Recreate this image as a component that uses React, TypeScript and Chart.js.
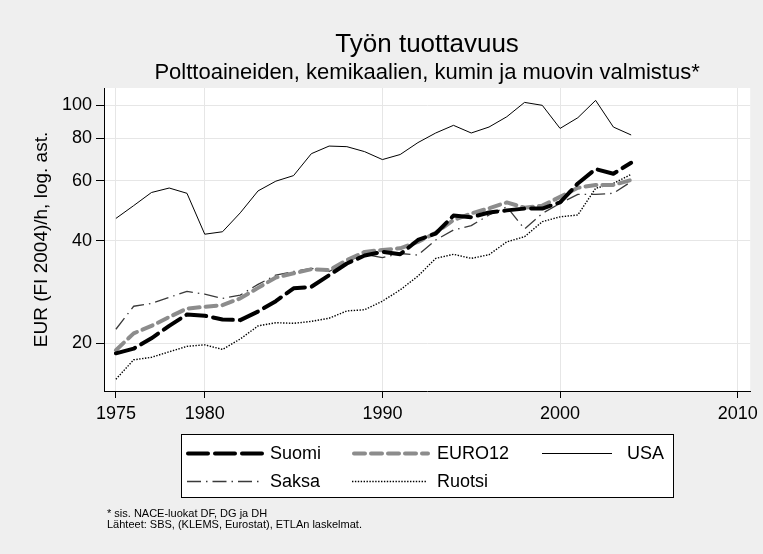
import React, { useEffect, useRef } from "react";
import { Chart, registerables } from "chart.js";

Chart.register(...registerables);

const years = [1975, 1976, 1977, 1978, 1979, 1980, 1981, 1982, 1983, 1984, 1985, 1986, 1987, 1988, 1989, 1990, 1991, 1992, 1993, 1994, 1995, 1996, 1997, 1998, 1999, 2000, 2001, 2002, 2003, 2004];
const suomi = [18.7, 19.3, 20.7, 22.5, 24.3, 24.1, 23.5, 23.4, 24.8, 26.6, 29.0, 29.3, 31.7, 34.3, 36.2, 37.1, 36.5, 40.2, 42.0, 47.4, 46.9, 48.4, 49.1, 49.7, 49.7, 51.8, 58.9, 64.9, 62.9, 67.7];
const euro12 = [19.1, 21.4, 22.5, 23.9, 25.3, 25.6, 25.9, 27.1, 29.1, 31.2, 32.1, 33.0, 32.8, 35.1, 37.1, 37.6, 38.0, 39.7, 42.2, 46.0, 48.1, 49.8, 51.8, 50.0, 50.7, 53.8, 57.2, 58.3, 58.3, 60.3];
const usa = [46.5, 50.7, 55.4, 57.1, 55.1, 41.8, 42.5, 48.3, 56.0, 59.8, 62.1, 72.0, 75.8, 75.5, 73.0, 69.2, 71.6, 77.6, 82.8, 87.2, 82.8, 86.2, 92.4, 101.8, 99.8, 85.4, 91.8, 103.2, 86.2, 81.7];
const saksa = [22.0, 25.7, 26.2, 27.3, 28.4, 27.9, 27.1, 27.7, 29.8, 31.7, 32.5, 33.2, 32.5, 34.7, 36.5, 35.7, 36.7, 36.3, 40.2, 43.0, 44.3, 47.6, 50.3, 43.3, 48.1, 51.5, 54.7, 54.7, 55.1, 59.6];
const ruotsi = [15.7, 17.9, 18.2, 18.9, 19.6, 19.8, 19.2, 20.6, 22.5, 23.0, 22.9, 23.2, 23.7, 24.9, 25.1, 26.6, 28.7, 31.5, 35.5, 36.5, 35.5, 36.4, 39.7, 41.1, 45.5, 47.0, 47.6, 57.0, 58.9, 62.6];

const xTicks = [1975, 1980, 1990, 2000, 2010];
const yTicks = [20, 40, 60, 80, 100];

const titleText = "Työn tuottavuus";
const subtitleText = "Polttoaineiden, kemikaalien, kumin ja muovin valmistus*";
const yTitleText = "EUR (FI 2004)/h, log. ast.";
const noteLines = ["* sis. NACE-luokat DF, DG ja DH", "Lähteet: SBS, (KLEMS, Eurostat), ETLAn laskelmat."];

const FONT = "'Liberation Sans', Arial, Helvetica, sans-serif";
const BG = "#efefef";

type Style = { label: string; color: string; width: number; dash: number[]; cap: CanvasLineCap };
const styles: Style[] = [
  { label: "Suomi", color: "#000000", width: 4, dash: [20, 7], cap: "round" },
  { label: "EURO12", color: "#8c8c8c", width: 4, dash: [11, 6], cap: "round" },
  { label: "USA", color: "#000000", width: 1, dash: [], cap: "butt" },
  { label: "Saksa", color: "#3a3a3a", width: 1.3, dash: [14, 5, 1.5, 5], cap: "butt" },
  { label: "Ruotsi", color: "#000000", width: 1.4, dash: [1.4, 1.5], cap: "butt" },
];
const seriesValues = [suomi, euro12, usa, saksa, ruotsi];

// legend layout: [style index, sampleX1, sampleX2, textX, rowY]
const legendItems: [number, number, number, number, number][] = [
  [0, 186, 262, 270, 453],
  [1, 352, 428, 437, 453],
  [2, 542, 612, 627, 453],
  [3, 187, 260, 270, 481],
  [4, 352, 427, 437, 481],
];

const decorPlugin = {
  id: "decor",
  beforeDraw(chart: any) {
    const { ctx, chartArea } = chart;
    ctx.save();
    ctx.fillStyle = BG;
    ctx.fillRect(0, 0, chart.width, chart.height);
    ctx.fillStyle = "#ffffff";
    ctx.fillRect(chartArea.left, chartArea.top, chartArea.right - chartArea.left, chartArea.bottom - chartArea.top);
    ctx.restore();
  },
  afterDraw(chart: any) {
    const { ctx, chartArea } = chart;
    const cx = (chartArea.left + chartArea.right) / 2;
    ctx.save();
    ctx.fillStyle = "#000";
    ctx.textAlign = "center";
    ctx.textBaseline = "middle";
    ctx.font = `26px ${FONT}`;
    ctx.fillText(titleText, cx, 45);
    ctx.font = `22px ${FONT}`;
    ctx.fillText(subtitleText, cx, 73);

    ctx.save();
    ctx.translate(42, (chartArea.top + chartArea.bottom) / 2);
    ctx.rotate(-Math.PI / 2);
    ctx.font = `19px ${FONT}`;
    ctx.fillText(yTitleText, 0, 0);
    ctx.restore();

    // legend box
    ctx.fillStyle = "#ffffff";
    ctx.fillRect(181, 434, 492, 63);
    ctx.strokeStyle = "#000";
    ctx.lineWidth = 1;
    ctx.setLineDash([]);
    ctx.strokeRect(181.5, 434.5, 492, 63);

    ctx.font = `18px ${FONT}`;
    ctx.textAlign = "left";
    for (const [si, x1, x2, tx, ry] of legendItems) {
      const s = styles[si];
      ctx.beginPath();
      ctx.strokeStyle = s.color;
      ctx.lineWidth = s.width;
      ctx.lineCap = s.cap;
      ctx.setLineDash(s.dash);
      ctx.moveTo(x1 + (s.cap === "round" ? s.width / 2 : 0), ry + 0.5);
      ctx.lineTo(x2, ry + 0.5);
      ctx.stroke();
      ctx.fillStyle = "#000";
      ctx.fillText(s.label, tx, ry + 1);
    }
    ctx.setLineDash([]);

    ctx.font = `11px ${FONT}`;
    ctx.fillStyle = "#000";
    noteLines.forEach((t, i) => ctx.fillText(t, 107, 514 + i * 11));
    ctx.restore();
  },
};

export default function App() {
  const ref = useRef<HTMLCanvasElement | null>(null);
  useEffect(() => {
    if (!ref.current) return;
    const chart = new Chart(ref.current, {
      type: "line",
      data: {
        datasets: styles.map((s, i) => ({
          label: s.label,
          data: years.map((y, j) => ({ x: y, y: seriesValues[i][j] })),
          borderColor: s.color,
          borderWidth: s.width,
          borderDash: s.dash,
          borderCapStyle: s.cap,
          borderJoinStyle: "round",
          pointRadius: 0,
          tension: 0,
          fill: false,
        })),
      },
      options: {
        animation: false,
        responsive: false,
        devicePixelRatio: 1,
        layout: { padding: { top: 88, right: 12, bottom: 123, left: 0 } },
        plugins: { legend: { display: false }, title: { display: false }, tooltip: { enabled: false } },
        scales: {
          x: {
            type: "linear",
            min: 1974.33,
            max: 2010.7,
            afterBuildTicks: (scale: any) => {
              scale.ticks = xTicks.map((v) => ({ value: v }));
            },
            afterFit: (scale: any) => {
              scale.height = 40;
            },
            ticks: {
              font: { family: FONT, size: 18 },
              color: "#000",
              padding: 5,
              maxRotation: 0,
              autoSkip: false,
              callback: (v: any) => String(v),
            },
            grid: { color: "#e6e6e6", lineWidth: 1, tickColor: "#000", tickLength: 7, drawOnChartArea: true },
            border: { color: "#000", width: 1 },
          },
          y: {
            type: "logarithmic",
            min: 14.5,
            max: 112.2,
            afterBuildTicks: (scale: any) => {
              scale.ticks = yTicks.map((v) => ({ value: v }));
            },
            afterFit: (scale: any) => {
              scale.width = 104;
            },
            ticks: {
              font: { family: FONT, size: 18 },
              color: "#000",
              padding: 4,
              autoSkip: false,
              callback: (v: any) => String(v),
            },
            grid: { color: "#e6e6e6", lineWidth: 1, tickColor: "#000", tickLength: 8, drawOnChartArea: true },
            border: { color: "#000", width: 1 },
          },
        },
      },
      plugins: [decorPlugin],
    } as any);
    return () => chart.destroy();
  }, []);
  return (
    <div style={{ position: "absolute", left: 0, top: 0, width: 763, height: 554, background: BG }}>
      <canvas ref={ref} width={763} height={554} style={{ width: 763, height: 554, display: "block" }} />
    </div>
  );
}
